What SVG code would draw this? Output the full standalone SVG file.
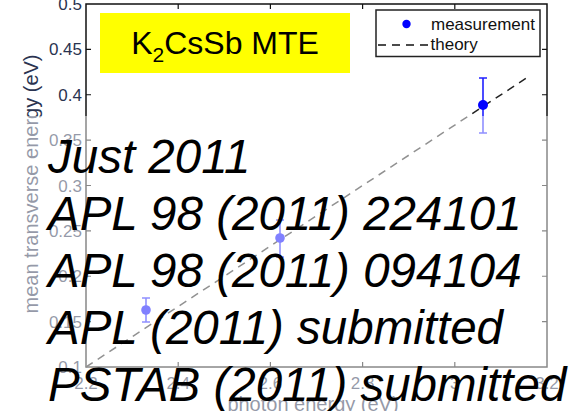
<svg xmlns="http://www.w3.org/2000/svg" width="577" height="411" viewBox="0 0 577 411">
<style>
  .ax{fill:none;stroke:#111;stroke-width:1.5}
  .tk{stroke:#111;stroke-width:1.2}
  .tl{font-family:"Liberation Sans",Arial,sans-serif;font-size:17px;fill:#2a3350}
  .al{font-family:"Liberation Sans",Arial,sans-serif;font-size:20px;fill:#2a3350}
  .lg{font-family:"Liberation Sans",Arial,sans-serif;font-size:17px;fill:#111}
  .eb{stroke:#2020ff;stroke-width:1.6;fill:none}
  .pt{fill:#0000ff}
  .big{font-family:"Liberation Sans",Arial,sans-serif;font-size:47.5px;font-style:italic;fill:#000}
</style>
<rect width="577" height="411" fill="#fff"/>
<g id="plot">
  <rect class="ax" x="86" y="4" width="461" height="363" fill="#fff"/>
  <g id="ticks">
    <path class="tk" d="M178.2 4v5M270.4 4v5M362.6 4v5M454.8 4v5M178.2 367v-5M270.4 367v-5M362.6 367v-5M454.8 367v-5"/>
    <path class="tk" d="M86 49.4h5M86 94.75h5M86 140.1h5M86 185.5h5M86 230.9h5M86 276.25h5M86 321.6h5M547 49.4h-5M547 94.75h-5M547 140.1h-5M547 185.5h-5M547 230.9h-5M547 276.25h-5M547 321.6h-5"/>
  </g>
  <g id="ytick-labels" class="tl" text-anchor="end">
    <text x="82" y="10">0.5</text>
    <text x="82" y="55.4">0.45</text>
    <text x="82" y="100.75">0.4</text>
    <text x="82" y="146.1">0.35</text>
    <text x="82" y="191.5">0.3</text>
    <text x="82" y="236.9">0.25</text>
    <text x="82" y="282.25">0.2</text>
    <text x="82" y="327.6">0.15</text>
    <text x="82" y="373">0.1</text>
  </g>
  <g id="xtick-labels" class="tl" text-anchor="middle">
    <text x="86" y="389">2.2</text>
    <text x="178.2" y="389">2.4</text>
    <text x="270.4" y="389">2.6</text>
    <text x="362.6" y="389">2.8</text>
    <text x="454.8" y="389">3</text>
    <text x="547" y="389">3.2</text>
  </g>
  <text class="al" text-anchor="middle" transform="translate(38,184) rotate(-90)">mean transverse energy (eV)</text>
  <text class="al" x="313" y="411" text-anchor="middle">photon energy (eV)</text>
</g>
<g id="connectors">
  <line id="theory-line" x1="86" y1="367" x2="528" y2="77" stroke="#222" stroke-width="1.5" stroke-dasharray="8 6"/>
</g>
<g id="data">
  <g id="point1">
    <path class="eb" d="M146 298v24M142 298h8M142 322h8"/>
    <circle class="pt" cx="146" cy="310" r="4.8"/>
  </g>
  <g id="point2">
    <path class="eb" d="M280 220v37M276 220h8M276 257h8"/>
    <circle class="pt" cx="280" cy="238" r="4.8"/>
  </g>
  <g id="point3">
    <path class="eb" d="M483 78v55M479 78h8M479 133h8"/>
    <circle class="pt" cx="483" cy="105" r="5"/>
  </g>
</g>
<g id="legend">
  <rect x="376" y="10" width="164" height="46.5" fill="#fff" stroke="#222" stroke-width="1.5"/>
  <circle cx="406.5" cy="24" r="4.2" fill="#0000ff"/>
  <text class="lg" x="431" y="29.5">measurement</text>
  <line x1="378" y1="45" x2="428" y2="45" stroke="#111" stroke-width="1.4" stroke-dasharray="8 6"/>
  <text class="lg" x="430.5" y="50">theory</text>
</g>
<g id="title">
  <rect x="100" y="13" width="250" height="60" fill="#ffff00"/>
  <text x="225" y="54" text-anchor="middle" font-family="Liberation Sans, Arial, sans-serif" font-size="32" fill="#000">K<tspan font-size="21" dy="8">2</tspan><tspan dy="-8">CsSb MTE</tspan></text>
</g>
<rect id="fade" x="0" y="116" width="577" height="295" fill="#fff" fill-opacity="0.5"/>
<g id="references" class="big">
  <text x="48" y="173">Just 2011</text>
  <text x="48" y="230">APL 98 (2011) 224101</text>
  <text x="48" y="287">APL 98 (2011) 094104</text>
  <text x="48" y="344">APL (2011) submitted</text>
  <text x="48" y="401">PSTAB (2011) submitted</text>
</g>
</svg>
